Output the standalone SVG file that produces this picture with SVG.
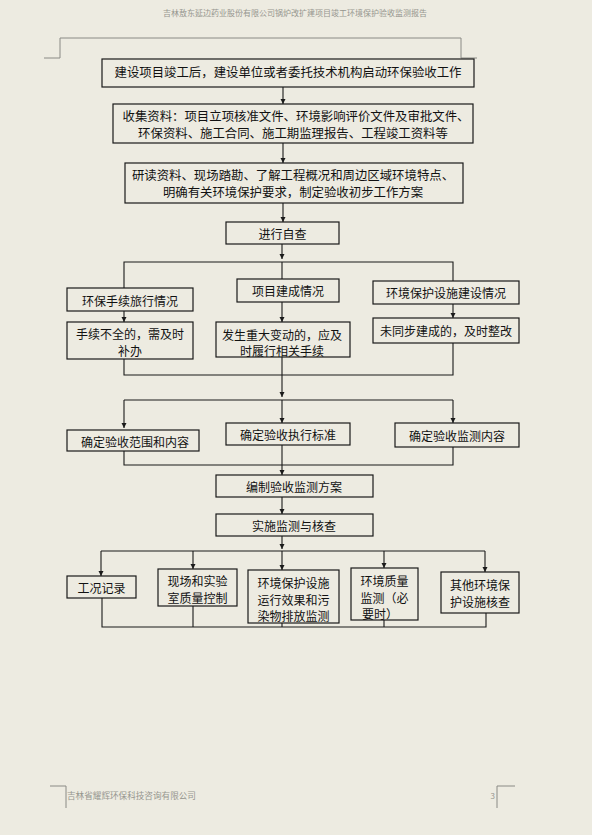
<svg xmlns="http://www.w3.org/2000/svg" width="592" height="835" viewBox="0 0 592 835">
<style>
.bg{fill:#EDEBE1}
.box{fill:none;stroke:#1a1a1a;stroke-width:1.2}
.t{font-family:"Noto Sans CJK SC","Liberation Sans",sans-serif;font-size:12px;fill:#111;text-anchor:middle;dominant-baseline:central}
.tl{font-size:12.4px}
.c{fill:none;stroke:#1a1a1a;stroke-width:1.1}
.a{marker-end:url(#ah)}
.pg{fill:none;stroke:#8a8a85;stroke-width:1}
.hd{font-family:"Noto Sans CJK SC","Liberation Sans",sans-serif;font-size:8px;fill:#96968f}
</style>
<defs>
<marker id="ah" viewBox="0 0 6 6" refX="6" refY="3" markerWidth="5" markerHeight="6" markerUnits="userSpaceOnUse" orient="auto">
<path d="M0,0 L6,3 L0,6 z" fill="#1a1a1a"/>
</marker>
</defs>
<rect class="bg" x="0" y="0" width="592" height="835"/>

<g id="page">
<text class="hd" x="295" y="16" text-anchor="middle">吉林敖东延边药业股份有限公司锅炉改扩建项目竣工环境保护验收监测报告</text>
<path class="pg" d="M44,58 H60 V38 H461 V58 H477"/>
<path class="pg" d="M50,786 H66 V808"/>
<path class="pg" d="M515,786 H497 V808"/>
<text class="hd" x="67" y="799" style="font-size:8.6px">吉林省耀辉环保科技咨询有限公司</text>
<text class="hd" x="495" y="799" text-anchor="end">3</text>
</g>

<g id="connectors">
<path class="c a" d="M283,87 V104"/>
<path class="c a" d="M283,143 V163"/>
<path class="c a" d="M283,203 V222"/>
<path class="c a" d="M282,244 V259"/>
<path class="c" d="M124,288 V262 H453 V281 M282,262 V279"/>
<path class="c a" d="M124,311 V322"/>
<path class="c a" d="M282,302 V322"/>
<path class="c a" d="M453,304 V318"/>
<path class="c" d="M124,359 V375 H453 V343"/>
<path class="c a" d="M282,357 V397"/>
<path class="c" d="M124,400 H453"/>
<path class="c a" d="M124,400 V428"/>
<path class="c a" d="M282,400 V423"/>
<path class="c a" d="M453,400 V423"/>
<path class="c" d="M124,451 V465 H453 V447"/>
<path class="c a" d="M282,445 V475"/>
<path class="c a" d="M282,497 V514"/>
<path class="c a" d="M282,536 V549"/>
<path class="c" d="M101,551 H485"/>
<path class="c a" d="M101,551 V576"/>
<path class="c a" d="M193,551 V569"/>
<path class="c a" d="M282,551 V570"/>
<path class="c a" d="M384,551 V568"/>
<path class="c a" d="M485,551 V572"/>
<path class="c" d="M102,598 V627 H486 V613 M193,606 V627 M282,623 V627 M384,620 V627"/>
</g>

<g id="n1"><rect class="box" x="102" y="59" width="372" height="28"/>
<text class="t tl" x="288" y="72">建设项目竣工后，建设单位或者委托技术机构启动环保验收工作</text></g>

<g id="n2"><rect class="box" x="113" y="104" width="360" height="39"/>
<text class="t tl" x="296" y="116">收集资料：项目立项核准文件、环境影响评价文件及审批文件、</text>
<text class="t tl" x="293" y="133">环保资料、施工合同、施工期监理报告、工程竣工资料等</text></g>

<g id="n3"><rect class="box" x="125" y="163" width="338" height="40"/>
<text class="t tl" x="293" y="175">研读资料、现场踏勘、了解工程概况和周边区域环境特点、</text>
<text class="t tl" x="293" y="192">明确有关环境保护要求，制定验收初步工作方案</text></g>

<g id="n4"><rect class="box" x="226" y="222" width="113" height="22"/>
<text class="t" x="282.5" y="233">进行自查</text></g>

<g id="n5"><rect class="box" x="67" y="288" width="126" height="23"/>
<text class="t" x="130" y="300">环保手续旅行情况</text></g>

<g id="n6"><rect class="box" x="237" y="279" width="102" height="23"/>
<text class="t" x="288" y="290.5">项目建成情况</text></g>

<g id="n7"><rect class="box" x="373" y="281" width="146" height="23"/>
<text class="t" x="446" y="292.5">环境保护设施建设情况</text></g>

<g id="n8"><rect class="box" x="67" y="322" width="126" height="37"/>
<text class="t" x="130" y="333">手续不全的，需及时</text>
<text class="t" x="130" y="350">补办</text></g>

<g id="n9"><rect class="box" x="216" y="322" width="134" height="35"/>
<text class="t" x="282" y="334">发生重大变动的，应及</text>
<text class="t" x="282" y="350">时履行相关手续</text></g>

<g id="n10"><rect class="box" x="373" y="318" width="146" height="25"/>
<text class="t" x="446" y="330.5">未同步建成的，及时整改</text></g>

<g id="n11"><rect class="box" x="67" y="430" width="132" height="21"/>
<text class="t" x="135" y="441">确定验收范围和内容</text></g>

<g id="n12"><rect class="box" x="226" y="423" width="124" height="22"/>
<text class="t" x="288" y="434">确定验收执行标准</text></g>

<g id="n13"><rect class="box" x="395" y="423" width="124" height="24"/>
<text class="t" x="457" y="435">确定验收监测内容</text></g>

<g id="n14"><rect class="box" x="216" y="475" width="157" height="22"/>
<text class="t" x="294" y="486">编制验收监测方案</text></g>

<g id="n15"><rect class="box" x="216" y="514" width="157" height="22"/>
<text class="t" x="294" y="525">实施监测与核查</text></g>

<g id="n16"><rect class="box" x="67" y="576" width="69" height="22"/>
<text class="t" x="101.5" y="587">工况记录</text></g>

<g id="n17"><rect class="box" x="158" y="569" width="79" height="37"/>
<text class="t" x="197.5" y="580">现场和实验</text>
<text class="t" x="197.5" y="597">室质量控制</text></g>

<g id="n18"><rect class="box" x="248" y="570" width="91" height="53"/>
<text class="t" x="293.5" y="582">环境保护设施</text>
<text class="t" x="293.5" y="599">运行效果和污</text>
<text class="t" x="293.5" y="615">染物排放监测</text></g>

<g id="n19"><rect class="box" x="351" y="568" width="67" height="52"/>
<text class="t" x="384.5" y="580">环境质量</text>
<text class="t" x="384.5" y="597">监测（必</text>
<text class="t" x="380" y="613">要时）</text></g>

<g id="n20"><rect class="box" x="441" y="572" width="78" height="41"/>
<text class="t" x="480" y="584">其他环境保</text>
<text class="t" x="480" y="601">护设施核查</text></g>
</svg>
